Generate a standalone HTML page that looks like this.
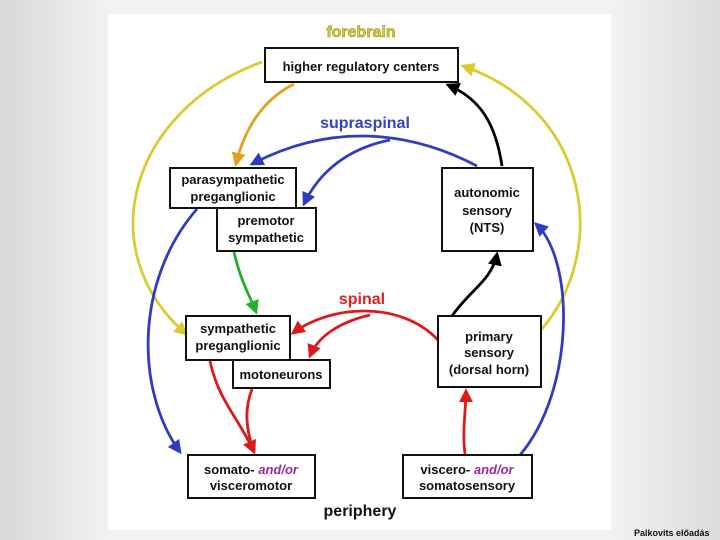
<!DOCTYPE html>
<html><head><meta charset="utf-8"><style>
html,body{margin:0;padding:0}
body{width:720px;height:540px;background:linear-gradient(90deg,#d8d8d8 0%,#f2f2f2 15%,#f2f2f2 85%,#dcdcdc 100%);position:relative;overflow:hidden;font-family:"Liberation Sans",sans-serif}
#panel{position:absolute;left:108px;top:14px;width:503px;height:516px;background:#fff}
svg{position:absolute;left:0;top:0}
.foot{position:absolute;left:634px;top:528px;font-size:9px;font-weight:bold;color:#111}
</style></head><body>
<div id="panel"></div>
<svg width="720" height="540" viewBox="0 0 720 540" font-family="Liberation Sans, sans-serif" font-weight="bold">
<defs>
<marker id="ay" markerWidth="5" markerHeight="5" refX="4" refY="2.5" orient="auto" markerUnits="strokeWidth"><path d="M0,0 L5,2.5 L0,5 z" fill="#d8cc30"/></marker>
<marker id="ao" markerWidth="5" markerHeight="5" refX="4" refY="2.5" orient="auto" markerUnits="strokeWidth"><path d="M0,0 L5,2.5 L0,5 z" fill="#e0a020"/></marker>
<marker id="ab" markerWidth="5" markerHeight="5" refX="4" refY="2.5" orient="auto" markerUnits="strokeWidth"><path d="M0,0 L5,2.5 L0,5 z" fill="#2f3cc0"/></marker>
<marker id="ak" markerWidth="5" markerHeight="5" refX="4" refY="2.5" orient="auto" markerUnits="strokeWidth"><path d="M0,0 L5,2.5 L0,5 z" fill="#000"/></marker>
<marker id="ag" markerWidth="5" markerHeight="5" refX="4" refY="2.5" orient="auto" markerUnits="strokeWidth"><path d="M0,0 L5,2.5 L0,5 z" fill="#22b030"/></marker>
<marker id="ar" markerWidth="5" markerHeight="5" refX="4" refY="2.5" orient="auto" markerUnits="strokeWidth"><path d="M0,0 L5,2.5 L0,5 z" fill="#dd1a1a"/></marker>
</defs>
<g fill="none" stroke-width="2.8">
<path d="M262,62 C130,110 90,250 186,334" stroke="#d8cc30" marker-end="url(#ay)"/>
<path d="M541,330 C610,250 590,110 463,66" stroke="#d8cc30" marker-end="url(#ay)"/>
<path d="M294,84 C262,100 244,130 236,164" stroke="#e0a020" marker-end="url(#ao)"/>
<path d="M477,166 C420,136 340,118 252,164" stroke="#2f3cc0" marker-end="url(#ab)"/>
<path d="M390,140 C350,148 320,170 304,204" stroke="#2f3cc0" marker-end="url(#ab)"/>
<path d="M197,209 C135,280 135,390 180,452" stroke="#2f3cc0" marker-end="url(#ab)"/>
<path d="M520,455 C575,390 575,260 536,224" stroke="#2f3cc0" marker-end="url(#ab)"/>
<path d="M502,166 C495,120 478,98 448,85" stroke="#000" marker-end="url(#ak)"/>
<path d="M452,316 C470,290 492,280 497,254" stroke="#000" marker-end="url(#ak)"/>
<path d="M234,252 C240,280 250,296 256,312" stroke="#22b030" marker-end="url(#ag)"/>
<path d="M438,340 C400,300 330,305 293,333" stroke="#dd1a1a" marker-end="url(#ar)"/>
<path d="M370,315 C340,322 318,336 310,356" stroke="#dd1a1a" marker-end="url(#ar)"/>
<path d="M210,361 C218,400 240,420 254,452" stroke="#dd1a1a" marker-end="url(#ar)"/>
<path d="M252,389 C244,410 246,430 254,452" stroke="#dd1a1a"/>
<path d="M465,454 C462,430 466,410 466,391" stroke="#dd1a1a" marker-end="url(#ar)"/>
</g>
<g fill="#fff" stroke="#111" stroke-width="2">
<rect x="265" y="48" width="193" height="34"/>
<rect x="170" y="168" width="126" height="40"/>
<rect x="217" y="208" width="99" height="43"/>
<rect x="442" y="168" width="91" height="83"/>
<rect x="186" y="316" width="104" height="44"/>
<rect x="233" y="360" width="97" height="28"/>
<rect x="438" y="316" width="103" height="71"/>
<rect x="188" y="455" width="127" height="43"/>
<rect x="403" y="455" width="129" height="43"/>
</g>
<g font-size="13" fill="#111" text-anchor="middle">
<text x="361" y="71">higher regulatory centers</text>
<text x="233" y="184">parasympathetic</text>
<text x="233" y="201">preganglionic</text>
<text x="266" y="225">premotor</text>
<text x="266" y="242">sympathetic</text>
<text x="487" y="197">autonomic</text>
<text x="487" y="215">sensory</text>
<text x="487" y="232">(NTS)</text>
<text x="238" y="333">sympathetic</text>
<text x="238" y="350">preganglionic</text>
<text x="281" y="379">motoneurons</text>
<text x="489" y="341">primary</text>
<text x="489" y="357">sensory</text>
<text x="489" y="374">(dorsal horn)</text>
<text x="251" y="474">somato- <tspan fill="#9a2aa0" font-style="italic">and/or</tspan></text>
<text x="251" y="490">visceromotor</text>
<text x="467" y="474">viscero- <tspan fill="#9a2aa0" font-style="italic">and/or</tspan></text>
<text x="467" y="490">somatosensory</text>
</g>
<g text-anchor="middle" font-size="16">
<text x="361" y="37" fill="#d8cc30" stroke="#8a8a20" stroke-width="0.5">forebrain</text>
<text x="365" y="128" fill="#3344bb">supraspinal</text>
<text x="362" y="304" fill="#dd2222">spinal</text>
<text x="360" y="516" fill="#111">periphery</text>
</g>
</svg>
<div class="foot">Palkovits előadás</div>
</body></html>
